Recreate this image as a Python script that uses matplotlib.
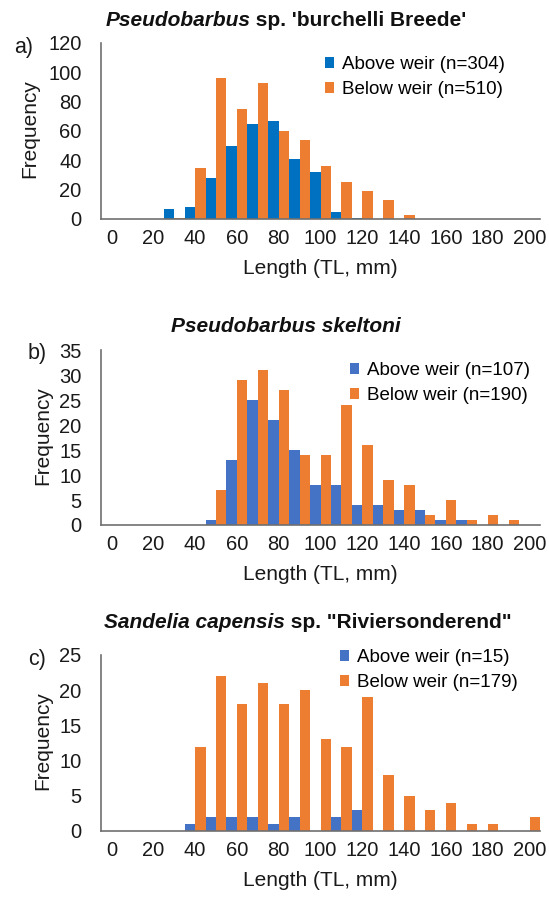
import numpy as np
import matplotlib
matplotlib.use("Agg")
import matplotlib.pyplot as plt
from matplotlib.offsetbox import TextArea, HPacker, AnchoredOffsetbox

plt.rcParams['font.family'] = ['Liberation Sans', 'DejaVu Sans']

# length classes (TL, mm)
lengths = list(range(0, 210, 10))
tick_labels = [str(v) for v in lengths[::2]]

# panel a) Pseudobarbus sp. 'burchelli Breede'
a_above = [0, 0, 0, 7, 8, 28, 50, 65, 67, 41, 32, 5, 1, 0, 0, 0, 0, 0, 0, 0, 0]
a_below = [0, 0, 0, 1, 35, 96, 75, 93, 60, 54, 36, 25, 19, 13, 3, 0, 0, 0, 0, 0, 0]

# panel b) Pseudobarbus skeltoni
b_above = [0, 0, 0, 0, 0, 1, 13, 25, 21, 15, 8, 8, 4, 4, 3, 3, 1, 1, 0, 0, 0]
b_below = [0, 0, 0, 0, 0, 7, 29, 31, 27, 14, 14, 24, 16, 9, 8, 2, 5, 1, 2, 1, 0]

# panel c) Sandelia capensis sp. "Riviersonderend"
c_above = [0, 0, 0, 0, 1, 2, 2, 2, 1, 2, 0, 2, 3, 0, 0, 0, 0, 0, 0, 0, 0]
c_below = [0, 0, 0, 0, 12, 22, 18, 21, 18, 20, 13, 12, 19, 8, 5, 3, 4, 1, 1, 0, 2]

W, H = 549, 898
ORANGE = '#ED7D31'
FS = 14.5


def fx(px):
    return px / W


def fy(py):
    return 1 - py / H


fig = plt.figure(figsize=(W / 100, H / 100), dpi=100)


def panel(top, bottom, above, below, n_above, n_below, blue, ymax, ystep,
          title_parts, title_x, title_y, letter, letter_x, ylab_x, leg_x, leg_y):
    ax = fig.add_axes([fx(101), fy(bottom), fx(540) - fx(101), (bottom - top) / H])
    x = np.arange(len(lengths))
    ax.bar(x - 0.25, above, width=0.5, color=blue,
           label='Above weir (n=%d)' % n_above)
    ax.bar(x + 0.25, below, width=0.5, color=ORANGE,
           label='Below weir (n=%d)' % n_below)
    ax.set_xlim(-0.5, len(lengths) - 0.5)
    ax.set_ylim(0, ymax)
    ax.set_yticks(np.arange(0, ymax + 1, ystep))
    ax.set_xticks(x[::2])
    ax.set_xticklabels(tick_labels)
    ax.tick_params(length=0, labelsize=FS, labelcolor='#1a1a1a')
    ax.tick_params(axis='y', pad=14)
    ax.tick_params(axis='x', pad=7)
    for s in ['top', 'right']:
        ax.spines[s].set_visible(False)
    for s in ['left', 'bottom']:
        ax.spines[s].set_color('#6f6f6f')
        ax.spines[s].set_linewidth(1.2)
    ax.set_xlabel('Length (TL, mm)', fontsize=FS + 0.5, color='#1a1a1a', labelpad=8)
    fig.text(fx(ylab_x), fy((top + bottom) / 2 - 2), 'Frequency', rotation=90,
             ha='center', va='center', fontsize=FS + 0.5, color='#1a1a1a')
    fig.text(fx(letter_x), fy(top + 4), letter, ha='center', va='center',
             fontsize=FS + 1, color='#1a1a1a')
    ax.legend(loc='upper left', bbox_to_anchor=(fx(leg_x), fy(leg_y)),
              bbox_transform=fig.transFigure, frameon=False, fontsize=FS - 1,
              borderpad=0, borderaxespad=0, handlelength=0.5, handleheight=0.5,
              handletextpad=0.4, labelspacing=0.42)

    # title: italic bold genus/species + bold rest
    boxes = [TextArea(t, textprops=dict(fontsize=FS + 0.5, fontweight='bold',
                                        fontstyle=st, color='#111111'))
             for t, st in title_parts]
    pack = HPacker(children=boxes, align='baseline', pad=0, sep=0)
    anch = AnchoredOffsetbox(loc='center', child=pack, pad=0, borderpad=0,
                             frameon=False,
                             bbox_to_anchor=(fx(title_x), fy(title_y)),
                             bbox_transform=fig.transFigure)
    fig.add_artist(anch)
    return ax


panel(43, 219, a_above, a_below, 304, 510, '#0070C0', 120, 20,
      [('Pseudobarbus', 'italic'), (" sp. 'burchelli Breede'", 'normal')],
      286, 20, 'a)', 24, 30, 325, 56)

panel(350, 525, b_above, b_below, 107, 190, '#4472C4', 35, 5,
      [('Pseudobarbus skeltoni', 'italic')],
      286, 327, 'b)', 37, 43, 350, 362)

panel(655, 831, c_above, c_below, 15, 179, '#4472C4', 25, 5,
      [('Sandelia capensis', 'italic'), (' sp. "Riviersonderend"', 'normal')],
      308, 623, 'c)', 37, 43, 340, 649)

fig.savefig('out.png', dpi=100)
